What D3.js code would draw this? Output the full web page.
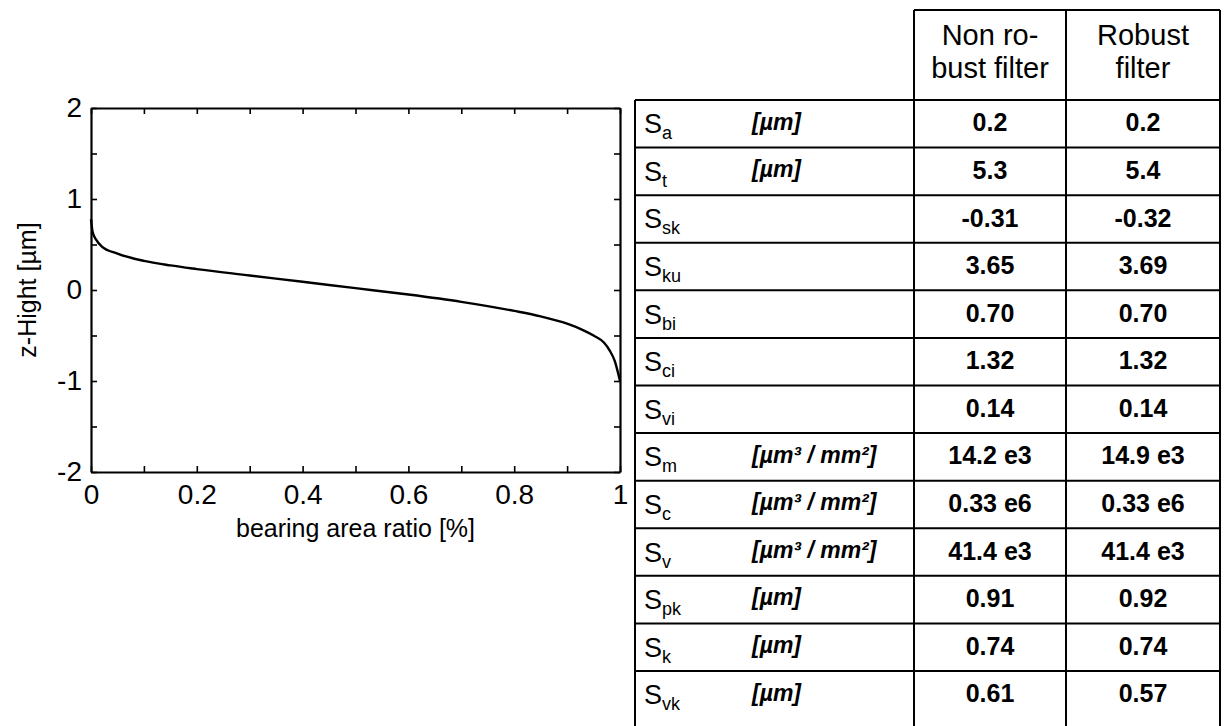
<!DOCTYPE html>
<html>
<head>
<meta charset="utf-8">
<script src="https://cdn.jsdelivr.net/npm/d3@7"></script>
<style>
  html, body { margin: 0; padding: 0; background: #fff; }
  svg { display: block; font-family: "Liberation Sans", Arial, sans-serif; }
</style>
</head>
<body>
<svg id="chart" width="1228" height="726"></svg>
<script>
// bearing area curve
const ratio = [0, 0.003, 0.01, 0.02, 0.05, 0.1, 0.15, 0.2, 0.3, 0.4, 0.5, 0.6, 0.7, 0.8, 0.85, 0.9, 0.93, 0.95, 0.97, 0.98, 0.99, 0.995, 1];
const zHeight = [0.78, 0.64, 0.55, 0.48, 0.40, 0.32, 0.27, 0.23, 0.16, 0.09, 0.02, -0.05, -0.13, -0.23, -0.29, -0.37, -0.44, -0.50, -0.58, -0.66, -0.78, -0.88, -1.0];
const xTicks = [0, 0.1, 0.2, 0.3, 0.4, 0.5, 0.6, 0.7, 0.8, 0.9, 1];
const xLabels = ['0', '', '0.2', '', '0.4', '', '0.6', '', '0.8', '', '1'];
const yTicks = [-2, -1.5, -1, -0.5, 0, 0.5, 1, 1.5, 2];
const yLabels = ['-2', '', '-1', '', '0', '', '1', '', '2'];

// parameter table
const headers = [['Non ro-', 'bust filter'], ['Robust', 'filter']];
const params = ['a', 't', 'sk', 'ku', 'bi', 'ci', 'vi', 'm', 'c', 'v', 'pk', 'k', 'vk'];
const units = ['[µm]', '[µm]', '', '', '', '', '', '[µm³ / mm²]', '[µm³ / mm²]', '[µm³ / mm²]', '[µm]', '[µm]', '[µm]'];
const nonRobust = ['0.2', '5.3', '-0.31', '3.65', '0.70', '1.32', '0.14', '14.2 e3', '0.33 e6', '41.4 e3', '0.91', '0.74', '0.61'];
const robust = ['0.2', '5.4', '-0.32', '3.69', '0.70', '1.32', '0.14', '14.9 e3', '0.33 e6', '41.4 e3', '0.92', '0.74', '0.57'];

const svg = d3.select('#chart');

// ---- plot ----
const plot = { left: 91, right: 620, top: 108, bottom: 472 };
const x = d3.scaleLinear().domain([0, 1]).range([plot.left, plot.right]);
const y = d3.scaleLinear().domain([-2, 2]).range([plot.bottom, plot.top]);

const styleAxis = g => {
  g.select('.domain').attr('stroke', '#000').attr('stroke-width', 2.2);
  g.selectAll('.tick line').attr('stroke', '#000').attr('stroke-width', 1.6);
  g.selectAll('.tick text').attr('fill', '#000').style('font-size', '28px')
    .style('font-family', '"Liberation Sans", Arial, sans-serif');
};

svg.append('g')
  .attr('transform', `translate(0,${plot.bottom})`)
  .call(d3.axisBottom(x).tickValues(xTicks).tickSizeInner(-6).tickSizeOuter(0).tickPadding(12)
    .tickFormat((d, i) => xLabels[i]))
  .call(styleAxis);

svg.append('g')
  .attr('transform', `translate(0,${plot.top})`)
  .call(d3.axisTop(x).tickValues(xTicks).tickSizeInner(-6).tickSizeOuter(0).tickFormat(''))
  .call(styleAxis);

svg.append('g')
  .attr('transform', `translate(${plot.left},0)`)
  .call(d3.axisLeft(y).tickValues(yTicks).tickSizeInner(-6).tickSizeOuter(0).tickPadding(9)
    .tickFormat((d, i) => yLabels[i]))
  .call(styleAxis);

svg.append('g')
  .attr('transform', `translate(${plot.right},0)`)
  .call(d3.axisRight(y).tickValues(yTicks).tickSizeInner(-6).tickSizeOuter(0).tickFormat(''))
  .call(styleAxis);

const line = d3.line()
  .x(d => x(d[0]))
  .y(d => y(d[1]))
  .curve(d3.curveMonotoneX);

svg.append('path')
  .datum(d3.zip(ratio, zHeight))
  .attr('d', line)
  .attr('fill', 'none')
  .attr('stroke', '#000')
  .attr('stroke-width', 2.4);

svg.append('text')
  .attr('x', (plot.left + plot.right) / 2)
  .attr('y', 537)
  .attr('text-anchor', 'middle')
  .style('font-size', '25px')
  .text('bearing area ratio [%]');

svg.append('text')
  .attr('transform', `translate(36,${y(0)}) rotate(-90)`)
  .attr('text-anchor', 'middle')
  .style('font-size', '25px')
  .text('z-Hight  [µm]');

// ---- table ----
const tbl = { left: 635, symX: 644, unitX: 752, col1: 914, col2: 1066, right: 1220, headTop: 10, bottom: 726 };
const rowTop = d3.scaleLinear().domain([0, params.length - 1]).range([100, 671]);
const rowH = rowTop(1) - rowTop(0);
const colMid = [(tbl.col1 + tbl.col2) / 2, (tbl.col2 + tbl.right) / 2];

const t = svg.append('g').attr('stroke', '#000').attr('stroke-width', 2);

// header box top and verticals
t.append('line').attr('x1', tbl.col1).attr('x2', tbl.right).attr('y1', tbl.headTop).attr('y2', tbl.headTop);
[tbl.col1, tbl.col2, tbl.right].forEach(cx => {
  t.append('line').attr('x1', cx).attr('x2', cx).attr('y1', tbl.headTop).attr('y2', tbl.bottom);
});
t.append('line').attr('x1', tbl.left).attr('x2', tbl.left).attr('y1', rowTop(0)).attr('y2', tbl.bottom);

t.selectAll('line.row')
  .data(params)
  .enter()
  .append('line')
  .attr('class', 'row')
  .attr('x1', tbl.left)
  .attr('x2', tbl.right)
  .attr('y1', (d, i) => rowTop(i))
  .attr('y2', (d, i) => rowTop(i));

// header text
headers.forEach((lines, c) => {
  lines.forEach((s, k) => {
    svg.append('text')
      .attr('x', colMid[c])
      .attr('y', 45 + k * 33)
      .attr('text-anchor', 'middle')
      .style('font-size', '29px')
      .text(s);
  });
});

const rows = svg.selectAll('g.prow')
  .data(params)
  .enter()
  .append('g')
  .attr('class', 'prow')
  .attr('transform', (d, i) => `translate(0,${rowTop(i)})`);

const sym = rows.append('text')
  .attr('x', tbl.symX)
  .attr('y', rowH * 0.7)
  .style('font-size', '27px');
sym.append('tspan').text('S');
sym.append('tspan')
  .attr('dy', 6)
  .style('font-size', '18px')
  .text(d => d);

rows.append('text')
  .attr('x', tbl.unitX)
  .attr('y', rowH * 0.62)
  .style('font-size', '23px')
  .style('font-style', 'italic')
  .style('font-weight', 'bold')
  .text((d, i) => units[i]);

rows.append('text')
  .attr('x', colMid[0])
  .attr('y', rowH * 0.66)
  .attr('text-anchor', 'middle')
  .style('font-size', '25px')
  .style('font-weight', 'bold')
  .text((d, i) => nonRobust[i]);

rows.append('text')
  .attr('x', colMid[1])
  .attr('y', rowH * 0.66)
  .attr('text-anchor', 'middle')
  .style('font-size', '25px')
  .style('font-weight', 'bold')
  .text((d, i) => robust[i]);
</script>
</body>
</html>
